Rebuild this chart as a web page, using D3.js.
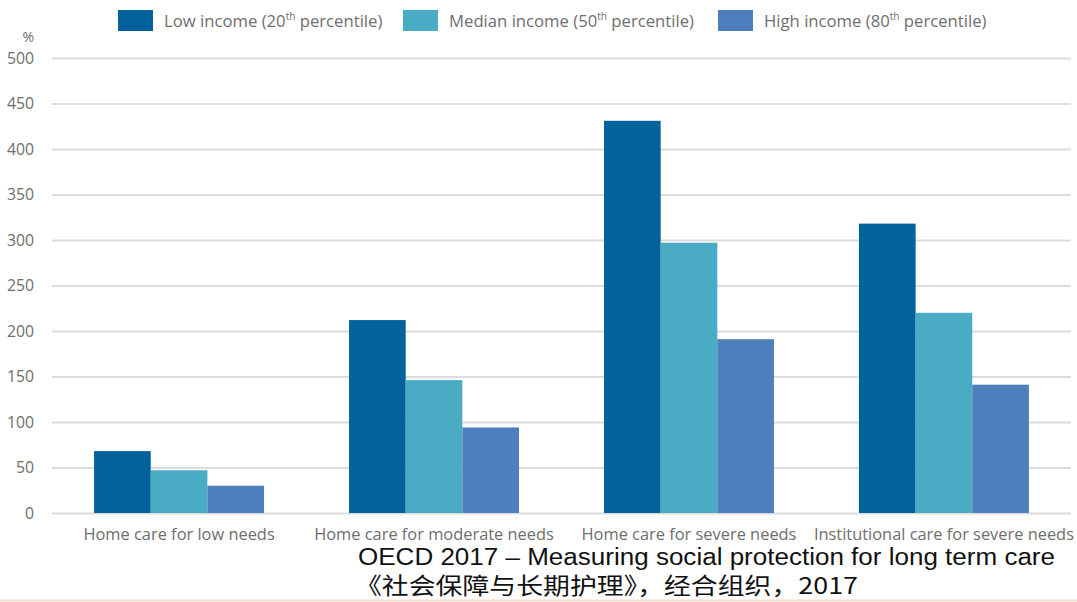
<!DOCTYPE html>
<html>
<head>
<meta charset="utf-8">
<script src="https://cdn.jsdelivr.net/npm/d3@7"></script>
<style>
  html, body { margin: 0; padding: 0; background: #fff; }
  svg { display: block; }
</style>
</head>
<body>
<div class="canvas"></div>
<script>
// Categories along the x axis
const categories = ['Home care for low needs', 'Home care for moderate needs',
  'Home care for severe needs', 'Institutional care for severe needs'];

// Series names, (superscript) ordinals and values, in %
const seriesNames = ['Low income (20', 'Median income (50', 'High income (80'];
const seriesSup = ['th', 'th', 'th'];
const lowIncome = [68, 212, 431, 318];
const medianIncome = [47, 146, 297, 220];
const highIncome = [30, 94, 191, 141];

// Y axis ticks
const yTicks = [0, 50, 100, 150, 200, 250, 300, 350, 400, 450, 500];

// Colours of the three series
const colors = ['#02629b', '#4aabc5', '#4e7fbc'];

const svgWidth = 1077;
const svgHeight = 602;
const margins = {left: 52, top: 58, right: 6, bottom: 89};

const series = [lowIncome, medianIncome, highIncome];
const labelFont = '"Open Sans", sans-serif';

const svg = d3.select('.canvas').append('svg')
  .attr('width', svgWidth)
  .attr('height', svgHeight)
  .style('background-color', 'white');

// Scales
const xScale = d3.scaleBand().domain(categories)
  .range([margins.left, svgWidth - margins.right])
  .paddingInner(1 / 3)
  .paddingOuter(0.165);

const xInner = d3.scaleBand().domain(d3.range(series.length))
  .range([0, xScale.bandwidth()]);

const yScale = d3.scaleLinear().domain([0, 500])
  .range([svgHeight - margins.bottom, margins.top]);

// Gridlines + y tick labels
const y_ax = d3.axisLeft(yScale).tickValues(yTicks)
  .tickSize(-(svgWidth - margins.left - margins.right))
  .tickPadding(18);

const yAxis = svg.append('g')
  .attr('class', 'y_axis')
  .attr('transform', 'translate(' + margins.left + ',0)')
  .call(y_ax);
yAxis.select('.domain').remove();
yAxis.selectAll('line').attr('stroke', '#dcdcdc').attr('stroke-width', 2);
yAxis.selectAll('text')
  .attr('fill', '#6e6e6e')
  .style('font-family', labelFont)
  .style('font-size', '15.8px');

// "%" unit label
svg.append('text')
  .attr('x', 34).attr('y', 42)
  .attr('text-anchor', 'end')
  .attr('fill', '#6e6e6e')
  .style('font-family', labelFont)
  .style('font-size', '14px')
  .text('%');

// Bars
const groups = svg.selectAll('g.cat')
  .data(categories)
  .enter()
  .append('g')
  .attr('class', 'cat')
  .attr('transform', d => 'translate(' + xScale(d) + ',0)');

groups.selectAll('rect')
  .data((d, ci) => series.map((s, si) => ({si: si, v: s[ci]})))
  .enter()
  .append('rect')
  .attr('x', d => xInner(d.si))
  .attr('y', d => yScale(d.v))
  .attr('width', xInner.bandwidth())
  .attr('height', d => yScale(0) - yScale(d.v))
  .attr('fill', d => colors[d.si]);

// Category labels
const x_ax = d3.axisBottom(xScale).tickSize(0).tickPadding(15.5);
const xAxis = svg.append('g')
  .attr('class', 'x_axis')
  .attr('transform', 'translate(0,' + yScale(0) + ')')
  .call(x_ax);
xAxis.select('.domain').remove();
xAxis.selectAll('text')
  .attr('fill', '#6e6e6e')
  .style('font-family', labelFont)
  .style('font-size', '16.4px');

// Legend
const legendX = [118, 403, 718];
const legend = svg.append('g').attr('class', 'legend');
seriesNames.forEach((name, i) => {
  legend.append('rect')
    .attr('x', legendX[i]).attr('y', 10)
    .attr('width', 35).attr('height', 21)
    .attr('fill', colors[i]);
  const t = legend.append('text')
    .attr('x', legendX[i] + 46).attr('y', 27)
    .attr('fill', '#6e6e6e')
    .style('font-family', labelFont)
    .style('font-size', '16.7px');
  t.append('tspan').text(name);
  t.append('tspan').attr('dy', -7).style('font-size', '10px').text(seriesSup[i]);
  t.append('tspan').attr('dy', 7).text(' percentile)');
});

// Source lines
svg.append('text')
  .attr('x', 358).attr('y', 565)
  .attr('fill', '#111')
  .attr('textLength', 697)
  .attr('lengthAdjust', 'spacingAndGlyphs')
  .style('font-family', '"Liberation Sans", Arial, sans-serif')
  .style('font-size', '23px')
  .text('OECD 2017 \u2013 Measuring social protection for long term care');

svg.append('text')
  .attr('x', 355).attr('y', 594)
  .attr('fill', '#111')
  .attr('textLength', 503)
  .attr('lengthAdjust', 'spacingAndGlyphs')
  .style('font-family', '"Noto Sans CJK SC", sans-serif')
  .style('font-size', '23px')
  .text('《社会保障与长期护理》，经合组织，2017');

// Faint bottom rule
svg.append('line')
  .attr('x1', 0).attr('x2', svgWidth)
  .attr('y1', 600.5).attr('y2', 600.5)
  .attr('stroke', '#f6dccb').attr('stroke-width', 2);
</script>
</body>
</html>
